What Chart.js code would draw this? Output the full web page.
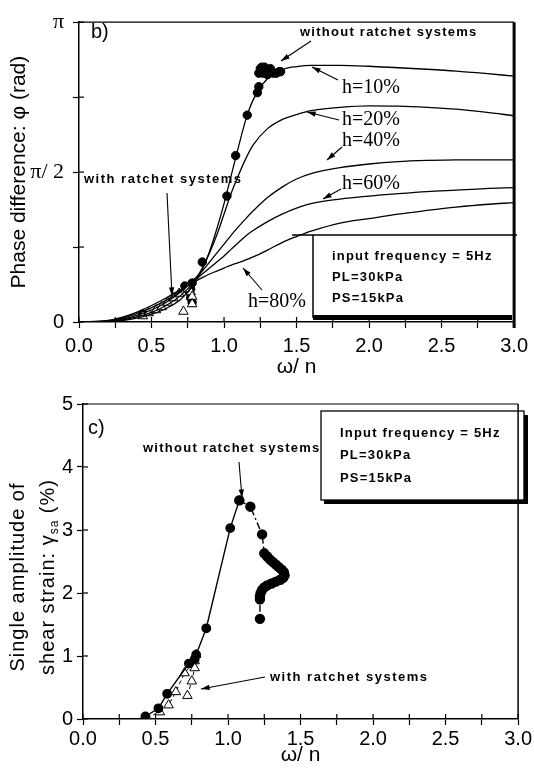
<!DOCTYPE html>
<html>
<head>
<meta charset="utf-8">
<title>Phase difference and shear strain</title>
<script src="https://cdn.jsdelivr.net/npm/chart.js"></script>
<style>
  body { margin: 0; background: #fff; }
  .panel { position: absolute; left: 0; width: 534px; }
</style>
</head>
<body>
<div class="panel" style="top:0;height:380px"><canvas id="phaseChart"></canvas></div>
<div class="panel" style="top:380px;height:392px"><canvas id="strainChart"></canvas></div>
<script>
// panel b) : theoretical curves, y in units of pi
const curveX = [0, 0.2, 0.3, 0.4, 0.5, 0.6, 0.7, 0.8, 0.85, 0.9, 0.95, 1.0, 1.05, 1.1, 1.15, 1.2, 1.3, 1.4, 1.5, 1.6, 1.8, 2.0, 2.2, 2.4, 2.6, 2.8, 3.0];
const h10 = [0, 0.001, 0.005, 0.013, 0.026, 0.045, 0.075, 0.13, 0.175, 0.235, 0.31, 0.395, 0.49, 0.585, 0.675, 0.74, 0.812, 0.842, 0.852, 0.856, 0.856, 0.853, 0.848, 0.843, 0.837, 0.829, 0.82];
const h20 = [0, 0.002, 0.007, 0.017, 0.032, 0.055, 0.088, 0.14, 0.18, 0.23, 0.29, 0.36, 0.43, 0.49, 0.545, 0.59, 0.645, 0.675, 0.692, 0.705, 0.716, 0.721, 0.72, 0.716, 0.71, 0.70, 0.688];
const h40 = [0, 0.003, 0.01, 0.022, 0.04, 0.065, 0.1, 0.145, 0.17, 0.2, 0.23, 0.26, 0.29, 0.318, 0.345, 0.37, 0.415, 0.45, 0.477, 0.495, 0.515, 0.527, 0.535, 0.539, 0.541, 0.541, 0.541];
const h60 = [0, 0.004, 0.013, 0.028, 0.048, 0.072, 0.103, 0.14, 0.16, 0.18, 0.2, 0.22, 0.243, 0.265, 0.287, 0.305, 0.335, 0.36, 0.38, 0.395, 0.41, 0.42, 0.428, 0.435, 0.44, 0.445, 0.448];
const h80 = [0, 0.005, 0.016, 0.033, 0.055, 0.08, 0.108, 0.135, 0.148, 0.16, 0.17, 0.18, 0.19, 0.198, 0.207, 0.217, 0.24, 0.265, 0.285, 0.303, 0.33, 0.345, 0.36, 0.372, 0.383, 0.392, 0.398];

// panel b) : measured points
const bWithoutX = [0.44, 0.73, 0.76, 0.77, 0.77, 0.78, 0.78, 0.85, 1.02, 1.08, 1.16, 1.23, 1.24, 1.24, 1.25, 1.26, 1.27, 1.28, 1.29, 1.30, 1.31, 1.32, 1.34, 1.36, 1.38, 1.39];
const bWithoutY = [0.027, 0.12, 0.10, 0.08, 0.11, 0.065, 0.13, 0.20, 0.42, 0.555, 0.69, 0.765, 0.785, 0.83, 0.845, 0.85, 0.83, 0.85, 0.84, 0.825, 0.835, 0.845, 0.83, 0.83, 0.835, 0.835];
const bWithX = [0.44, 0.48, 0.53, 0.57, 0.61, 0.65, 0.69, 0.72, 0.75, 0.77, 0.78, 0.78];
const bWithY = [0.02, 0.03, 0.04, 0.05, 0.065, 0.08, 0.095, 0.035, 0.11, 0.10, 0.085, 0.06];

// panel c) : single amplitude of shear strain (%)
const cRiseX = [0.43, 0.52, 0.58, 0.73, 0.77, 0.78, 0.85, 1.015, 1.078];
const cRiseY = [0.04, 0.17, 0.40, 0.88, 0.95, 1.02, 1.44, 3.03, 3.47];
const cFallX = [1.078, 1.154, 1.235, 1.25, 1.27, 1.29, 1.31, 1.33, 1.35, 1.37, 1.385, 1.39, 1.38, 1.36, 1.33, 1.30, 1.27, 1.25, 1.235, 1.225, 1.22, 1.22, 1.22];
const cFallY = [3.47, 3.37, 2.93, 2.63, 2.58, 2.53, 2.49, 2.45, 2.41, 2.37, 2.33, 2.28, 2.24, 2.21, 2.18, 2.15, 2.12, 2.09, 2.05, 2.0, 1.95, 1.9, 1.59];
const cWithAX = [0.44, 0.53, 0.59, 0.64, 0.70, 0.77, 0.78];
const cWithAY = [0.02, 0.11, 0.22, 0.43, 0.73, 0.92, 1.02];
const cWithBX = [0.72, 0.75, 0.77];
const cWithBY = [0.37, 0.60, 0.81];

const xTickLabels = ['0.0', '0.5', '1.0', '1.5', '2.0', '2.5', '3.0'];
const phaseTickLabels = { 0: '0', 0.5: 'π/ 2', 1: 'π' };

const SANS = "'Liberation Sans', Arial, sans-serif";
const SERIF = "'Liberation Serif', 'Times New Roman', serif";
Chart.defaults.font.family = SANS;
Chart.defaults.color = '#000';

const pts = (xs, ys) => xs.map((x, i) => ({ x: x, y: ys[i] }));

const curve = (ys) => ({
  data: pts(curveX, ys), showLine: true, pointRadius: 0, borderColor: '#000',
  borderWidth: 1.3, cubicInterpolationMode: 'monotone'
});

function line(ctx, x1, y1, x2, y2) {
  ctx.beginPath(); ctx.moveTo(x1, y1); ctx.lineTo(x2, y2); ctx.stroke();
}

function arrow(ctx, x1, y1, x2, y2) {
  const a = Math.atan2(y2 - y1, x2 - x1);
  line(ctx, x1, y1, x2, y2);
  ctx.beginPath();
  ctx.moveTo(x2, y2);
  ctx.lineTo(x2 - 9 * Math.cos(a - 0.3), y2 - 9 * Math.sin(a - 0.3));
  ctx.lineTo(x2 - 9 * Math.cos(a + 0.3), y2 - 9 * Math.sin(a + 0.3));
  ctx.closePath(); ctx.fill();
}

function text(ctx, s, x, y, font, spacing) {
  ctx.font = font;
  ctx.letterSpacing = (spacing || 0) + 'px';
  ctx.textAlign = 'left';
  ctx.textBaseline = 'middle';
  ctx.fillText(s, x, y);
  ctx.letterSpacing = '0px';
}

// inward tick marks + frame
const frame = {
  id: 'frame',
  afterDraw(chart, args, opts) {
    const { ctx, chartArea: a, scales: { x, y } } = chart;
    ctx.save();
    ctx.strokeStyle = '#000';
    ctx.lineWidth = 1.2;
    x.ticks.forEach(t => { const px = x.getPixelForValue(t.value); line(ctx, px, a.bottom, px, a.bottom - 5); });
    y.ticks.forEach(t => { const py = y.getPixelForValue(t.value); line(ctx, a.left, py, a.left + 5, py); });
    line(ctx, a.left, a.top, a.right, a.top);
    ctx.lineWidth = opts.rightWidth;
    line(ctx, a.right, a.top, a.right, a.bottom + opts.rightExtra);
    ctx.restore();
  }
};

function xScale(tickPad, titlePad, height) {
  return {
    type: 'linear', min: 0, max: 3,
    afterFit: s => { s.height = height; },
    ticks: {
      stepSize: 0.25, autoSkip: false, maxRotation: 0, padding: tickPad,
      font: { size: 20 },
      callback: v => (Math.abs(v * 2 - Math.round(v * 2)) < 1e-6 ? xTickLabels[Math.round(v * 2)] : '')
    },
    grid: { drawOnChartArea: false, tickLength: 6, color: '#000', tickWidth: 1.2 },
    border: { color: '#000', width: 1.5 },
    title: { display: true, text: 'ω/ n', font: { size: 21 }, padding: { top: 0, bottom: titlePad } }
  };
}

// ---------- panel b ----------
const phaseNotes = {
  id: 'phaseNotes',
  afterDatasetsDraw(chart) {
    const ctx = chart.ctx;
    ctx.save();
    ctx.fillStyle = '#000';
    ctx.strokeStyle = '#000';
    ctx.lineWidth = 1.1;

    text(ctx, 'b)', 91, 32, '20px ' + SANS);
    text(ctx, 'without ratchet systems', 300, 32, 'bold 13px ' + SANS, 1.25);
    arrow(ctx, 311, 41, 281, 61);

    text(ctx, 'h=10%', 342, 88, '20px ' + SERIF);
    arrow(ctx, 338, 80, 312, 67);
    text(ctx, 'h=20%', 342, 120, '20px ' + SERIF);
    arrow(ctx, 339, 120, 307, 112);
    text(ctx, 'h=40%', 342, 141, '20px ' + SERIF);
    arrow(ctx, 342, 147, 327, 160);
    text(ctx, 'h=60%', 342, 184, '20px ' + SERIF);
    arrow(ctx, 341, 189, 323, 199);
    text(ctx, 'h=80%', 248, 302, '20px ' + SERIF);
    arrow(ctx, 262, 290, 243, 268);

    text(ctx, 'with ratchet systems', 84, 179, 'bold 13px ' + SANS, 1.5);
    arrow(ctx, 167, 193, 172, 296);

    // condition box
    ctx.fillStyle = '#fff';
    ctx.fillRect(313, 235, 204, 82);
    ctx.fillStyle = '#000';
    ctx.lineWidth = 1.5;
    line(ctx, 292, 235, 517, 235);
    line(ctx, 313, 235, 313, 318);
    ctx.fillRect(313, 315, 199, 5);
    text(ctx, 'input frequency = 5Hz', 332, 256, 'bold 13px ' + SANS, 1.2);
    text(ctx, 'PL=30kPa', 332, 277, 'bold 13px ' + SANS, 1.2);
    text(ctx, 'PS=15kPa', 332, 298, 'bold 13px ' + SANS, 1.2);
    ctx.restore();
  }
};

new Chart(document.getElementById('phaseChart'), {
  type: 'scatter',
  data: {
    datasets: [
      curve(h10), curve(h20), curve(h40), curve(h60), curve(h80),
      { data: pts(bWithX, bWithY), pointStyle: 'triangle', pointRadius: 5.5, backgroundColor: '#fff', borderColor: '#000', borderWidth: 1 },
      { data: pts(bWithoutX, bWithoutY), pointStyle: 'circle', pointRadius: 4.2, backgroundColor: '#000', borderColor: '#000', borderWidth: 1 }
    ]
  },
  options: {
    responsive: true, maintainAspectRatio: false, animation: false, devicePixelRatio: 1,
    layout: { padding: { top: 14, right: 17, left: 0, bottom: 0 } },
    plugins: { legend: { display: false }, tooltip: { enabled: false }, frame: { rightWidth: 3, rightExtra: 6 } },
    scales: {
      x: xScale(6, 0, 58),
      y: {
        type: 'linear', min: 0, max: 1,
        afterFit: s => { s.width = 79; },
        ticks: {
          stepSize: 0.25, autoSkip: false, padding: 9,
          font: ctx => (ctx.tick && ctx.tick.value > 0 ? { family: SERIF, size: 22 } : { family: SANS, size: 20 }),
          callback: v => phaseTickLabels[v] || ''
        },
        grid: { drawOnChartArea: false, tickLength: 6, color: '#000', tickWidth: 1.2 },
        border: { color: '#000', width: 1.5 },
        title: { display: true, text: 'Phase difference: φ (rad)', font: { size: 21 }, padding: { top: 7, bottom: 0 } }
      }
    }
  },
  plugins: [frame, phaseNotes]
});

// ---------- panel c ----------
const strainNotes = {
  id: 'strainNotes',
  afterDatasetsDraw(chart) {
    const ctx = chart.ctx;
    ctx.save();
    ctx.fillStyle = '#000';
    ctx.strokeStyle = '#000';
    ctx.lineWidth = 1.1;

    text(ctx, 'c)', 88, 48, '20px ' + SANS);
    text(ctx, 'without ratchet systems', 143, 68, 'bold 13px ' + SANS, 1.25);
    arrow(ctx, 239, 82, 242, 118);
    text(ctx, 'with ratchet systems', 270, 297, 'bold 13px ' + SANS, 1.5);
    arrow(ctx, 265, 297, 201, 309);

    // condition box with shadow
    ctx.fillRect(324, 35, 204, 89);
    ctx.fillStyle = '#fff';
    ctx.fillRect(321, 31, 203, 89);
    ctx.lineWidth = 1.3;
    ctx.strokeRect(321, 31, 203, 89);
    ctx.fillStyle = '#000';
    text(ctx, 'Input frequency = 5Hz', 340, 53, 'bold 13px ' + SANS, 1.2);
    text(ctx, 'PL=30kPa', 340, 75, 'bold 13px ' + SANS, 1.2);
    text(ctx, 'PS=15kPa', 340, 98, 'bold 13px ' + SANS, 1.2);

    // y axis title, two lines with subscript
    ctx.save();
    ctx.translate(18, 197);
    ctx.rotate(-Math.PI / 2);
    ctx.textAlign = 'center';
    ctx.textBaseline = 'middle';
    ctx.font = '20px ' + SANS;
    ctx.letterSpacing = '1px';
    ctx.fillText('Single amplitude of', 0, 0);
    ctx.restore();

    ctx.save();
    ctx.translate(48, 197);
    ctx.rotate(-Math.PI / 2);
    ctx.textBaseline = 'middle';
    ctx.letterSpacing = '1px';
    const a = 'shear strain: γ', sub = 'sa', b = ' (%)';
    ctx.font = '20px ' + SANS;
    const wa = ctx.measureText(a).width, wb = ctx.measureText(b).width;
    ctx.font = '12px ' + SANS;
    const ws = ctx.measureText(sub).width;
    let x0 = -(wa + ws + wb) / 2;
    ctx.font = '20px ' + SANS;
    ctx.fillText(a, x0, 0);
    ctx.font = '12px ' + SANS;
    ctx.fillText(sub, x0 + wa, 7);
    ctx.font = '20px ' + SANS;
    ctx.fillText(b, x0 + wa + ws, 0);
    ctx.restore();
    ctx.restore();
  }
};

new Chart(document.getElementById('strainChart'), {
  type: 'scatter',
  data: {
    datasets: [
      { data: pts(cRiseX, cRiseY), showLine: true, borderColor: '#000', borderWidth: 1.4, pointRadius: 4.2, backgroundColor: '#000' },
      { data: pts(cFallX, cFallY), showLine: true, borderColor: '#000', borderWidth: 1.4, borderDash: [7, 3, 2, 3], pointRadius: 4.5, backgroundColor: '#000' },
      { data: pts(cWithAX, cWithAY), showLine: true, borderColor: '#000', borderWidth: 1, borderDash: [4, 3], pointStyle: 'triangle', pointRadius: 5.5, backgroundColor: '#fff' },
      { data: pts(cWithBX, cWithBY), showLine: true, borderColor: '#000', borderWidth: 1, borderDash: [4, 3], pointStyle: 'triangle', pointRadius: 5.5, backgroundColor: '#fff' }
    ]
  },
  options: {
    responsive: true, maintainAspectRatio: false, animation: false, devicePixelRatio: 1,
    layout: { padding: { top: 24, right: 8, left: 0, bottom: 0 } },
    plugins: { legend: { display: false }, tooltip: { enabled: false }, frame: { rightWidth: 1.5, rightExtra: 0 } },
    scales: {
      x: xScale(2, 4, 53),
      y: {
        type: 'linear', min: 0, max: 5,
        afterFit: s => { s.width = 83; },
        ticks: { stepSize: 1, padding: 4, font: { size: 20 } },
        grid: { drawOnChartArea: false, tickLength: 6, color: '#000', tickWidth: 1.2 },
        border: { color: '#000', width: 1.5 },
        title: { display: false }
      }
    }
  },
  plugins: [frame, strainNotes]
});
</script>
</body>
</html>
